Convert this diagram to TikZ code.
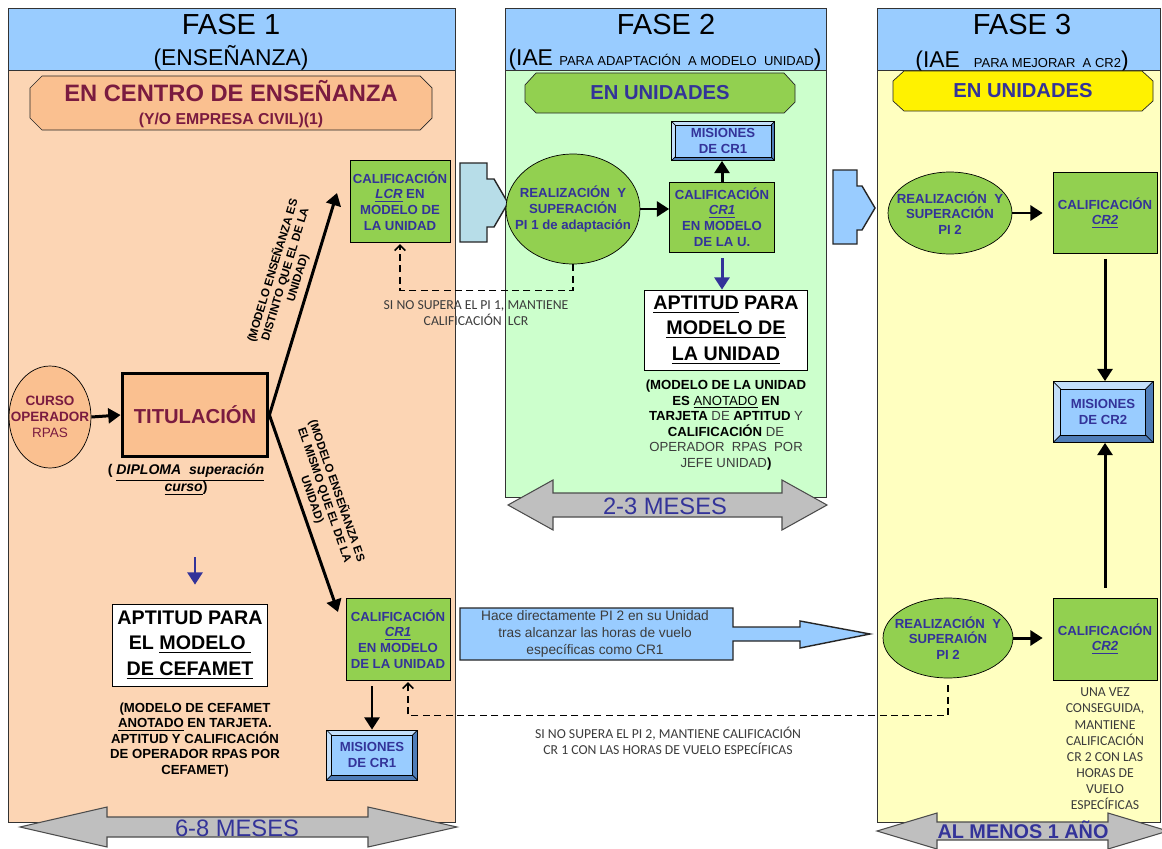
\documentclass[tikz,border=0pt]{standalone}
\usepackage{fontspec}
\setmainfont{Liberation Sans}
\newfontfamily\calib{Carlito}
\usetikzlibrary{arrows.meta,shapes.geometric,calc}

\definecolor{hdrblue}{HTML}{99CCFF}
\definecolor{peach}{HTML}{FCD5B4}
\definecolor{peachdark}{HTML}{FAC090}
\definecolor{mint}{HTML}{CCFFCC}
\definecolor{cream}{HTML}{FFFFC0}
\definecolor{leaf}{HTML}{92D050}
\definecolor{txtblue}{HTML}{333399}
\definecolor{wine}{HTML}{7A1B40}
\definecolor{notegray}{HTML}{3C3C3C}
\definecolor{paleteal}{HTML}{B7DDE8}
\definecolor{arrowgray}{HTML}{BFBFBF}
\definecolor{misface}{HTML}{99CCFF}
\definecolor{mislight}{HTML}{C3DFFA}
\definecolor{misdark}{HTML}{4F7DB8}

\tikzset{
  ovaltext/.style={text=txtblue, align=center, font=\bfseries\fontsize{7.5}{9}\selectfont},
  mis bevel/.store in=\misbevel, mis bevel=0.13cm,
  misbox/.style={rectangle, draw, fill=mislight, text=txtblue, align=center,
    font=\bfseries\fontsize{7.5}{8.6}\selectfont,
    path picture={
      \coordinate (pp1) at (path picture bounding box.north west);
      \coordinate (pp2) at (path picture bounding box.south east);
      \coordinate (pq1) at ($(pp1)+(\misbevel,-\misbevel)$);
      \coordinate (pq2) at ($(pp2)+(-\misbevel,\misbevel)$);
      \fill[misdark] (pp1 |- pp2) -- (pp2) -- (pp2 |- pp1) -- (pq2 |- pq1) -- (pq2) -- (pq1 |- pq2) -- cycle;
      \draw[fill=misface] (pq1) rectangle (pq2);
      \draw (pp1) -- (pq1) (pp2) -- (pq2) (pp1 |- pp2) -- (pq1 |- pq2) (pp2 |- pp1) -- (pq2 |- pq1);
    }}
}

\begin{document}
\begin{tikzpicture}[x=0.02cm,y=-0.02cm,
    every node/.style={inner sep=1pt},
    greenbox/.style={rectangle, draw, fill=leaf, text=txtblue, align=center, font=\bfseries\fontsize{7.5}{9}\selectfont},
    greenoval/.style={ellipse, draw, fill=leaf},
    whitebox/.style={rectangle, draw, fill=white, align=center, font=\bfseries\fontsize{11.2}{14.6}\selectfont},
    notetxt/.style={align=center, font=\bfseries\fontsize{7.5}{8.8}\selectfont},
    graytxt/.style={align=center, text=notegray, font=\calib\fontsize{7.8}{9.2}\selectfont},
    slopetxt/.style={align=center, font=\bfseries\fontsize{6.6}{7.4}\selectfont},
    fatarrow/.style={-{Triangle[length=7pt,width=8.5pt]}, line width=1.7pt},
    bluearrow/.style={fatarrow, draw=txtblue},
    retarrow/.style={-{Straight Barb[length=3pt,width=6pt]}, line width=0.9pt, dash pattern=on 4pt off 2.5pt},
    spanarrow/.style={fill=arrowgray, draw=black!70, line width=0.6pt},
    blockarrow/.style={draw=black!85, line width=0.8pt}]

  % page
  \useasboundingbox (0,0) rectangle (1162,848);
  \fill[white] (0,0) rectangle (1162,848);
  \clip (0,0) rectangle (1162,848);

  % the three phase columns
  \filldraw[fill=peach, draw=black!80] (8,70) rectangle (455,822);
  \filldraw[fill=mint, draw=black!80] (505,70) rectangle (826,497);
  \filldraw[fill=cream, draw=black!80] (877,70) rectangle (1160,822);
  \filldraw[fill=hdrblue, draw=black!80] (8,8) rectangle (455,70);
  \filldraw[fill=hdrblue, draw=black!80] (505,8) rectangle (826,70);
  \filldraw[fill=hdrblue, draw=black!80] (877,8) rectangle (1160,70);

  % column titles
  \node[font=\fontsize{16.5}{18}\selectfont] (f1title) at (231,25) {FASE 1};
  \node[font=\fontsize{13}{15}\selectfont] (f1sub) at (231,58) {(ENSEÑANZA)};
  \node[font=\fontsize{16.5}{18}\selectfont] (f2title) at (666,25) {FASE 2};
  \node[font=\fontsize{13}{15}\selectfont] (f2sub) at (665,60) {(IAE {\fontsize{7.4}{9}\selectfont PARA ADAPTACIÓN\ \ A MODELO\ \ UNIDAD})};
  \node[font=\fontsize{16.5}{18}\selectfont] (f3title) at (1022,25) {FASE 3};
  \node[font=\fontsize{13}{15}\selectfont] (f3sub) at (1022,62) {(IAE\hspace{8pt}{\fontsize{7.4}{9}\selectfont PARA MEJORAR\ \ A CR2})};

  % banners
  \filldraw[fill=peachdark, draw=black!85] (42,76) -- (420,76) -- (432,88) -- (432,118) -- (420,130) -- (42,130) -- (30,118) -- (30,88) -- cycle;
  \node[align=center, font=\bfseries, text=wine] (centro) at (231,104)
    {{\fontsize{13.5}{15}\selectfont EN CENTRO DE ENSEÑANZA}\\[1pt]{\fontsize{9}{10}\selectfont (Y/O EMPRESA CIVIL)(1)}};
  \filldraw[fill=leaf, draw=black!85] (536,73) -- (784,73) -- (795,85) -- (795,102) -- (784,113) -- (536,113) -- (525,102) -- (525,85) -- cycle;
  \node[text=txtblue, font=\bfseries\fontsize{11.5}{13}\selectfont] (unid2) at (660,93) {EN UNIDADES};
  \filldraw[fill=yellow, draw=black!85] (904,71) -- (1142,71) -- (1153,81) -- (1153,101) -- (1142,111) -- (904,111) -- (893,101) -- (893,81) -- cycle;
  \node[text=txtblue, font=\bfseries\fontsize{11.5}{13}\selectfont] (unid3) at (1023,91) {EN UNIDADES};

  % block arrows between phases
  \filldraw[blockarrow, fill=paleteal] (460,163) -- (487,163) -- (487,179) -- (494,179) -- (508,203) -- (494,227) -- (487,227) -- (487,242) -- (460,242) -- cycle;
  \filldraw[blockarrow, fill=hdrblue] (833,170) -- (857,170) -- (857,186) -- (862,186) -- (875,208) -- (862,230) -- (857,230) -- (857,244) -- (833,244) -- cycle;
  \filldraw[blockarrow, fill=hdrblue] (460,608) -- (733,608) -- (733,627) -- (800,627) -- (800,621) -- (870,634) -- (800,648) -- (800,641) -- (733,641) -- (733,660) -- (460,660) -- cycle;
  \node[font=\fontsize{7.8}{9.5}\selectfont, text=notegray, align=center] (hace) at (595,634)
    {Hace directamente PI 2 en su Unidad\\tras alcanzar las horas de vuelo\\específicas como CR1};

  % phase 1
  \node[ellipse, draw, fill=peachdark, minimum width=1.64cm, minimum height=2.04cm,
    label={[text=wine, align=center, font=\bfseries\fontsize{7.7}{9.2}\selectfont]center:{CURSO\\OPERADOR\\{\mdseries RPAS}}}] (curso) at (50,417) {};
  \node[rectangle, draw, line width=2.2pt, fill=peachdark, text=wine, minimum width=2.9cm, minimum height=1.66cm,
    font=\bfseries\fontsize{11.5}{13}\selectfont] (tit) at (195,415) {TITULACIÓN};
  \node[align=center, font=\bfseries\itshape\fontsize{8}{9.6}\selectfont] (diploma) at (186,480)
    {{\upshape(} \underline{DIPLOMA\ \ superación}\\\underline{curso}{\upshape)}};
  \node[greenbox, minimum width=2.0cm, minimum height=1.64cm] (lcr) at (400,201)
    {CALIFICACIÓN\\\underline{\itshape LCR} EN\\MODELO DE\\LA UNIDAD};
  \node[greenbox, minimum width=2.08cm, minimum height=1.64cm] (cr1b) at (398,639)
    {CALIFICACIÓN\\\underline{\itshape CR1}\\EN MODELO\\DE LA UNIDAD};
  \node[misbox, mis bevel=0.1cm, minimum width=1.82cm, minimum height=1.0cm] (mis1b) at (372,755) {MISIONES\\DE CR1};
  \node[whitebox, minimum width=3.1cm, minimum height=1.64cm] (aptc) at (190,645)
    {APTITUD PARA\\EL \underline{MODELO\ }\\\underline{DE CEFAMET}};
  \node[notetxt] (notec) at (195,740)
    {(MODELO DE CEFAMET\\\underline{ANOTADO} EN TARJETA.\\APTITUD Y CALIFICACIÓN\\DE OPERADOR RPAS POR\\CEFAMET)};
  \coordinate (upend) at (337,193);
  \coordinate (lowend) at (338,612);
  \coordinate (cefarrow) at (195,557);

  % phase 2
  \node[greenoval, minimum width=2.68cm, minimum height=2.2cm,
    label={[ovaltext]center:{REALIZACIÓN\ \ Y\\SUPERACIÓN\\PI 1 de adaptación}}] (pi1) at (573,209) {};
  \node[greenbox, minimum width=2.1cm, minimum height=1.4cm] (cr1) at (722,217)
    {CALIFICACIÓN\\\underline{\itshape CR1}\\EN MODELO\\DE LA U.};
  \node[misbox, mis bevel=0.07cm, minimum width=2.06cm, minimum height=0.78cm] (mis1) at (723,141) {MISIONES\\DE CR1};
  \node[whitebox, minimum width=3.26cm, minimum height=1.6cm] (apt2) at (726,330)
    {\underline{APTITUD} PARA\\\underline{MODELO DE}\\\underline{LA UNIDAD}};
  \node[notetxt] (note2) at (726,425)
    {(MODELO DE LA UNIDAD\\ES \underline{\mdseries ANOTADO} EN\\TARJETA {\mdseries\color{notegray} DE} APTITUD {\mdseries\color{notegray} Y}\\CALIFICACIÓN {\mdseries\color{notegray} DE}\\{\mdseries\color{notegray} OPERADOR\ \ RPAS\ \ POR}\\{\mdseries\color{notegray} JEFE UNIDAD})};

  % phase 3
  \node[greenoval, minimum width=2.48cm, minimum height=1.64cm,
    label={[ovaltext]center:{REALIZACIÓN\ \ Y\\SUPERACIÓN\\PI 2}}] (pi2a) at (950,213) {};
  \node[greenbox, minimum width=2.08cm, minimum height=1.62cm] (cr2a) at (1105,213) {CALIFICACIÓN\\\underline{\itshape CR2}};
  \node[misbox, mis bevel=0.15cm, minimum width=2.0cm, minimum height=1.22cm] (mis2) at (1103,412) {MISIONES\\DE CR2};
  \node[greenoval, minimum width=2.6cm, minimum height=1.6cm,
    label={[ovaltext]center:{REALIZACIÓN\ \ Y\\SUPERAIÓN\\PI 2}}] (pi2b) at (948,638) {};
  \node[greenbox, minimum width=2.08cm, minimum height=1.64cm] (cr2b) at (1105,639) {CALIFICACIÓN\\\underline{\itshape CR2}};
  \node[graytxt] (note3) at (1105,749)
    {UNA VEZ\\CONSEGUIDA,\\MANTIENE\\CALIFICACIÓN\\CR 2 CON LAS\\HORAS DE\\VUELO\\ESPECÍFICAS};

  % connectors
  \draw[fatarrow] (curso.east) -- (tit.west);
  \draw[fatarrow] (tit.east) -- (upend)
    node[pos=0.6, sloped, above=2pt, slopetxt] (distlbl) {(MODELO ENSEÑANZA ES\\DISTINTO QUE EL DE LA\\UNIDAD)};
  \draw[fatarrow] (tit.east) -- (lowend)
    node[pos=0.45, sloped, above=2pt, slopetxt] (mismolbl) {(MODELO ENSEÑANZA ES\\EL MISMO QUE EL DE LA\\UNIDAD)};
  \draw[bluearrow, shorten >=0.38cm] (cefarrow) -- (cefarrow |- aptc.north);
  \draw[fatarrow, shorten <=0.12cm] (mis1b.north |- cr1b.south) -- (mis1b.north);
  \draw[fatarrow] (pi1.east) -- (pi1.east -| cr1.west);
  \draw[fatarrow] (cr1.north) -- (cr1.north |- mis1.south);
  \draw[bluearrow, shorten <=0.12cm] (cr1.south) -- (cr1.south |- apt2.north);
  \draw[fatarrow, shorten >=0.2cm] (pi2a.east) -- (pi2a.east -| cr2a.west);
  \draw[fatarrow, shorten <=0.1cm] (cr2a.south) -- (cr2a.south |- mis2.north);
  \draw[fatarrow, shorten <=0.2cm] (cr2b.north) -- (cr2b.north |- mis2.south);
  \draw[fatarrow, shorten >=0.2cm] (pi2b.east) -- (pi2b.east -| cr2b.west);

  % fall-back paths (dashed)
  \draw[retarrow, shorten >=1pt] (pi1.south) -- ++(0,26) -| (lcr.south);
  \node[graytxt] (fail1) at (476,313) {SI NO SUPERA EL PI 1, MANTIENE\\CALIFICACIÓN\ \ LCR};
  \draw[retarrow, shorten <=4pt, shorten >=1pt] (pi2b.south) -- ++(0,37) -| ([xshift=0.2cm]cr1b.south);
  \node[graytxt] (fail2) at (668,741) {SI NO SUPERA EL PI 2, MANTIENE CALIFICACIÓN\\CR 1 CON LAS HORAS DE VUELO ESPECÍFICAS};

  % durations
  \filldraw[spanarrow] (508,505) -- (553,480) -- (553,493) -- (782,493) -- (782,480) -- (827,505) -- (782,530) -- (782,517) -- (553,517) -- (553,530) -- cycle;
  \node[font=\fontsize{13.5}{15}\selectfont, text=txtblue] (dur2) at (665,506) {2-3 MESES};
  \filldraw[spanarrow] (20,827) -- (107,807) -- (107,817) -- (368,817) -- (368,807) -- (457,827) -- (368,847) -- (368,837) -- (107,837) -- (107,847) -- cycle;
  \node[font=\fontsize{13.5}{15}\selectfont, text=txtblue] (dur1) at (237,828) {6-8 MESES};
  \filldraw[spanarrow] (877,831) -- (937,813) -- (937,822) -- (1108,822) -- (1108,813) -- (1168,831) -- (1108,849) -- (1108,840) -- (937,840) -- (937,849) -- cycle;
  \node[font=\bfseries\fontsize{11.3}{13}\selectfont, text=txtblue] (dur3) at (1023,830) {AL MENOS 1 AÑO};
\end{tikzpicture}
\end{document}
